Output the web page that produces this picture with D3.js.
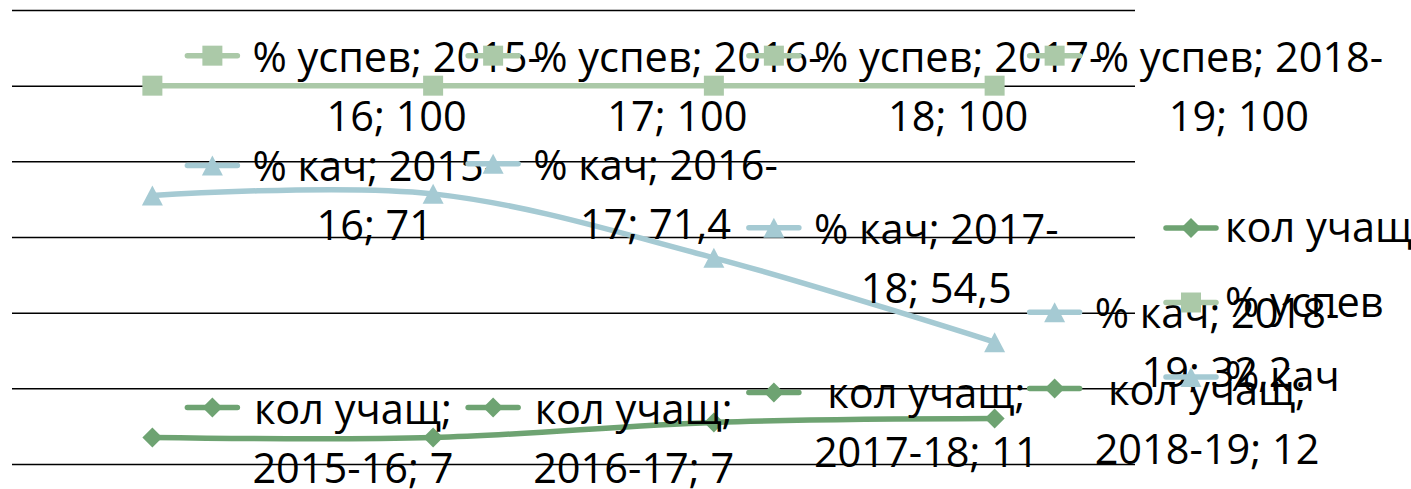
<!DOCTYPE html>
<html>
<head>
<meta charset="utf-8">
<script src="https://cdn.jsdelivr.net/npm/d3@7"></script>
<style>
  body { margin: 0; background: #fff; }
  text { font-family: "Open Sans", sans-serif; font-size: 41.5px; fill: #000; }
</style>
</head>
<body>
<div id="chart"></div>
<script>
// data
const categories = ["2015-16", "2016-17", "2017-18", "2018-19"];
const seriesNames = ["кол учащ", "% успев", "% кач"];
const kolValues = [7, 7, 11, 12];
const uspevValues = [100, 100, 100, 100];
const kachValues = [71, 71.4, 54.5, 32.2];
const yTicks = [0, 20, 40, 60, 80, 100, 120];

const seriesColors = ["#6ea372", "#abc9a8", "#a5cad3"];
const seriesMarkers = ["diamond", "square", "triangle"];

const series = seriesNames.map((name, i) => ({
  name,
  values: [kolValues, uspevValues, kachValues][i],
  color: seriesColors[i],
  marker: seriesMarkers[i]
}));

const width = 1411, height = 489;
const plot = { left: 12, right: 1135, top: 10, bottom: 464 };

const svg = d3.select("#chart").append("svg")
  .attr("width", width)
  .attr("height", height);

svg.append("rect").attr("width", width).attr("height", height).attr("fill", "#fff");

const x = d3.scalePoint().domain(categories).range([plot.left, plot.right]).padding(0.5);
const y = d3.scaleLinear().domain([0, 120]).range([plot.bottom, plot.top]);

// gridlines
const grid = svg.append("g")
  .attr("transform", `translate(${plot.left},0)`)
  .call(d3.axisLeft(y).tickValues(yTicks).tickSize(-(plot.right - plot.left)).tickFormat(""));
grid.select(".domain").remove();
grid.selectAll("line").attr("stroke", "#000").attr("stroke-width", 1.5);

// marker shapes, roughly 20px like the office chart markers
function markerPath(type) {
  if (type === "diamond") return "M0,-10L10,0L0,10L-10,0Z";
  if (type === "triangle") return "M0,-10L10.5,10L-10.5,10Z";
  return "M-10,-10H10V10H-10Z";
}

const line = d3.line()
  .x((d, i) => x(categories[i]))
  .y(d => y(d))
  .curve(d3.curveCatmullRom.alpha(0.5));

// lines + markers
series.forEach(s => {
  svg.append("path")
    .attr("d", line(s.values))
    .attr("fill", "none")
    .attr("stroke", s.color)
    .attr("stroke-width", 5.5)
    .attr("stroke-linejoin", "round");
  svg.selectAll(null)
    .data(s.values)
    .join("path")
    .attr("d", markerPath(s.marker))
    .attr("transform", (d, i) => `translate(${x(categories[i])},${y(d)})`)
    .attr("fill", s.color);
});

// legend key (short line with marker)
function drawKey(g, s, cx, cy) {
  g.append("line")
    .attr("x1", cx - 25).attr("x2", cx + 25)
    .attr("y1", cy).attr("y2", cy)
    .attr("stroke", s.color)
    .attr("stroke-width", 5.5)
    .attr("stroke-linecap", "round");
  g.append("path")
    .attr("d", markerPath(s.marker))
    .attr("transform", `translate(${cx},${cy})`)
    .attr("fill", s.color);
}

// measuring helper for wrapping
const measure = svg.append("text").attr("visibility", "hidden");
function textWidth(str) {
  measure.text(str);
  return measure.node().getComputedTextLength();
}
function wrap(str, maxW) {
  const pieces = str.split(/(?<=[ -])/);
  const lines = [];
  let cur = "";
  pieces.forEach(p => {
    const test = cur + p;
    if (cur && textWidth(test.trimEnd()) > maxW) {
      lines.push(cur.trimEnd());
      cur = p;
    } else {
      cur = test;
    }
  });
  if (cur) lines.push(cur.trimEnd());
  return lines;
}

const fmt = v => String(v).replace(".", ",");

// data labels
series.forEach(s => {
  s.values.forEach((v, i) => {
    const g = svg.append("g")
      .attr("transform", `translate(${x(categories[i])},${y(v)})`);
    drawKey(g, s, 60, -30);
    const lines = wrap(`${s.name}; ${categories[i]}; ${fmt(v)}`, 298);
    const maxW = d3.max(lines, l => textWidth(l));
    g.selectAll(null)
      .data(lines)
      .join("text")
      .attr("x", 100 + maxW / 2)
      .attr("y", (d, j) => -14 + j * 59)
      .attr("text-anchor", "middle")
      .text(d => d);
  });
});
measure.remove();

// legend
const legend = svg.append("g").attr("transform", "translate(1163,228)");
series.forEach((s, i) => {
  const g = legend.append("g").attr("transform", `translate(0,${i * 74.5})`);
  drawKey(g, s, 28, 0);
  g.append("text").attr("x", 62).attr("y", 14).text(s.name);
});
</script>
</body>
</html>
